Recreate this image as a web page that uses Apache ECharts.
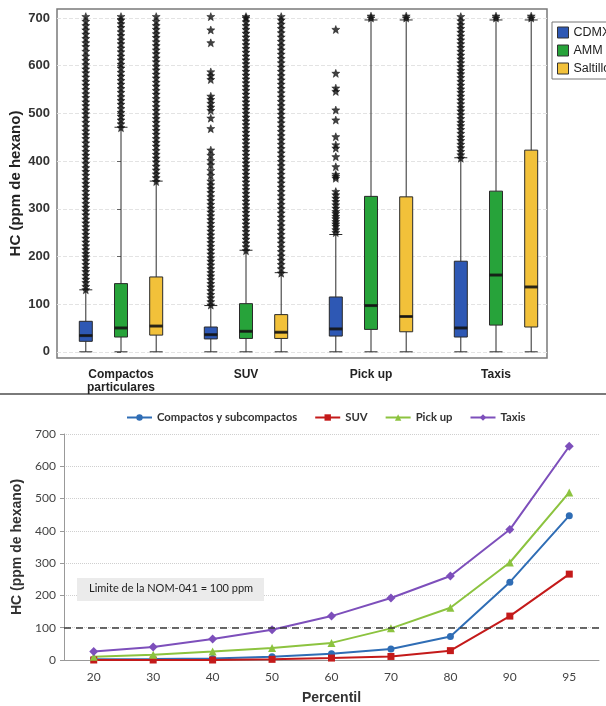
<!DOCTYPE html>
<html>
<head>
<meta charset="utf-8">
<script src="https://cdn.jsdelivr.net/npm/echarts@6/dist/echarts.min.js"></script>
<style>
html, body { margin: 0; padding: 0; background: #fff; }
#chart { width: 606px; height: 706px; }
</style>
</head>
<body>
<div id="chart"></div>
<script>
// ---- top panel: HC by vehicle type and city (box plots) ----
const vehicleTypes = ['Compactos\nparticulares', 'SUV', 'Pick up', 'Taxis'];
const cities = ['CDMX', 'AMM', 'Saltillo'];

// [min, Q1, median, Q3, max] for each vehicle type
const cdmxBoxes = [[0, 22, 34, 64, 130], [0, 27, 36, 52, 97], [0, 33, 48, 115, 246], [0, 31, 50, 190, 407]];
const ammBoxes = [[0, 31, 50, 143, 471], [0, 28, 43, 101, 213], [0, 47, 97, 326, 696], [0, 56, 161, 337, 696]];
const saltilloBoxes = [[0, 35, 54, 157, 358], [0, 28, 41, 78, 166], [0, 42, 74, 325, 696], [0, 52, 136, 423, 696]];

// outliers (ppm) for each vehicle type
const cdmxOutliers = [
  [130, 137, 145, 152, 160, 168, 175, 183, 191, 199, 206, 214, 222, 230, 238, 246, 254, 262, 270, 278, 287, 295, 303, 311, 320, 328, 336, 345, 353, 361, 370, 378, 386, 395, 404, 412, 420, 429, 438, 447, 455, 463, 472, 481, 490, 499, 507, 516, 524, 533, 541, 550, 559, 567, 576, 585, 593, 602, 611, 620, 630, 640, 648, 657, 666, 675, 684, 693, 703],
  [98, 105, 113, 120, 128, 136, 143, 151, 159, 166, 174, 182, 190, 197, 205, 213, 221, 229, 237, 245, 253, 261, 269, 277, 285, 293, 301, 309, 317, 325, 334, 342, 350, 358, 370, 380, 392, 401, 412, 423, 468, 490, 506, 513, 521, 529, 536, 571, 579, 587, 648, 675, 703],
  [250, 256, 263, 268, 273, 279, 284, 290, 294, 301, 308, 315, 322, 329, 336, 364, 368, 372, 388, 409, 427, 434, 451, 486, 507, 546, 553, 584, 676],
  [406, 413, 420, 428, 435, 443, 450, 458, 466, 474, 481, 489, 497, 505, 512, 520, 528, 536, 544, 551, 559, 567, 575, 583, 590, 598, 606, 614, 622, 630, 638, 646, 654, 662, 670, 678, 686, 694, 703]
];
const ammOutliers = [
  [470, 478, 486, 494, 502, 510, 519, 527, 535, 544, 552, 561, 569, 578, 586, 595, 603, 612, 620, 629, 637, 646, 654, 663, 671, 680, 688, 696, 703],
  [212, 220, 228, 236, 244, 252, 260, 268, 276, 284, 292, 300, 308, 316, 324, 332, 340, 348, 356, 364, 372, 380, 388, 396, 404, 412, 420, 428, 436, 444, 452, 460, 468, 476, 484, 492, 500, 508, 516, 524, 532, 540, 548, 556, 564, 572, 580, 588, 596, 604, 612, 620, 628, 636, 644, 652, 660, 668, 676, 684, 692, 700, 703],
  [700, 704],
  [700, 704]
];
const saltilloOutliers = [
  [357, 365, 373, 381, 389, 398, 406, 414, 422, 431, 439, 447, 456, 464, 472, 481, 489, 497, 506, 514, 523, 531, 540, 548, 557, 565, 574, 582, 591, 599, 608, 616, 625, 633, 642, 650, 659, 667, 676, 684, 693, 703],
  [165, 174, 183, 192, 201, 210, 219, 228, 237, 246, 255, 264, 273, 282, 291, 300, 309, 318, 327, 336, 345, 354, 363, 372, 381, 390, 399, 408, 417, 426, 435, 444, 453, 462, 471, 480, 489, 498, 507, 516, 525, 534, 543, 552, 561, 570, 579, 588, 597, 606, 615, 624, 633, 642, 651, 660, 669, 678, 687, 696, 703],
  [700, 704],
  [700, 704]
];
const topTicks = [0, 100, 200, 300, 400, 500, 600, 700];

// ---- bottom panel: HC by percentile ----
const percentiles = ['20', '30', '40', '50', '60', '70', '80', '90', '95'];
const compactos = [2, 3, 5, 10, 19, 34, 73, 241, 447];
const suv = [0, 0, 0, 2, 6, 11, 29, 136, 266];
const pickUp = [10, 16, 26, 37, 53, 98, 162, 302, 519];
const taxis = [26, 40, 65, 94, 136, 192, 260, 404, 662];
const nomLimit = 100;

const boxSets = [cdmxBoxes, ammBoxes, saltilloBoxes];
const outlierSets = [cdmxOutliers, ammOutliers, saltilloOutliers];
const cityColors = ['#2e58b4', '#27a33a', '#f2c13a'];

const starPath = 'path://M5,0L6.3,3.3L10,3.5L7.1,5.9L8.1,9.6L5,7.5L1.9,9.6L2.9,5.9L0,3.5L3.7,3.3Z';

const series = [];
cities.forEach(function (city, c) {
  series.push({
    name: city,
    type: 'boxplot',
    xAxisIndex: 0,
    yAxisIndex: 0,
    boxWidth: [13, 13],
    itemStyle: { color: cityColors[c], borderColor: '#2a2a2a', borderWidth: 1 },
    data: boxSets[c].map(function (b, g) { return [g].concat(b); })
  });
});

const lineDefs = [
  ['Compactos y subcompactos', compactos, '#2f6db5', 'circle', 7],
  ['SUV', suv, '#c41a1a', 'rect', 7],
  ['Pick up', pickUp, '#8cc33f', 'triangle', 8],
  ['Taxis', taxis, '#7d4fbb', 'diamond', 9]
];
lineDefs.forEach(function (d, i) {
  const s = {
    name: d[0],
    type: 'line',
    xAxisIndex: 1,
    yAxisIndex: 1,
    data: d[1],
    symbol: d[3],
    symbolSize: d[4],
    lineStyle: { width: 2, color: d[2] },
    itemStyle: { color: d[2] }
  };
  if (i === 0) {
    s.markLine = {
      silent: true,
      symbol: 'none',
      label: { show: false },
      lineStyle: { color: '#3a3a3a', type: [7, 5], width: 1.6 },
      data: [{ yAxis: nomLimit }]
    };
  }
  series.push(s);
});

const chart = echarts.init(document.getElementById('chart'));
chart.setOption({
  animation: false,
  textStyle: { fontFamily: 'Liberation Sans, Arial, sans-serif' },
  legend: [
    {
      data: cities.map(function (city, c) {
        return { name: city, itemStyle: { color: cityColors[c], borderColor: '#333', borderWidth: 1 } };
      }),
      orient: 'vertical',
      left: 552,
      top: 22,
      icon: 'rect',
      itemWidth: 11,
      itemHeight: 11,
      itemGap: 5,
      padding: [4, 30, 4, 5],
      borderColor: '#777',
      borderWidth: 1,
      textStyle: { fontSize: 12.5, color: '#222' }
    },
    {
      data: lineDefs.map(function (d) { return d[0]; }),
      left: 121,
      top: 407,
      itemWidth: 25,
      itemHeight: 8,
      itemGap: 17,
      textStyle: { fontSize: 11.3, fontWeight: 'bold', color: '#333', fontFamily: 'Lato' }
    }
  ],
  grid: [
    { left: 57, top: 9, width: 490, height: 349, outerBoundsMode: 'none', show: true, borderColor: '#7a7a7a', borderWidth: 1.5 },
    { left: 64, top: 434, width: 535, height: 226, outerBoundsMode: 'none' }
  ],
  xAxis: [
    {
      type: 'value',
      gridIndex: 0,
      min: -0.512,
      max: 3.408,
      axisLine: { show: false },
      axisTick: { show: false },
      splitLine: { show: false },
      axisLabel: {
        customValues: [0, 1, 2, 3],
        formatter: function (v) { return vehicleTypes[Math.round(v)]; },
        fontWeight: 'bold',
        fontSize: 12,
        color: '#222',
        margin: 10,
        lineHeight: 13
      }
    },
    {
      type: 'category',
      gridIndex: 1,
      data: percentiles,
      name: 'Percentil',
      nameLocation: 'middle',
      nameGap: 31,
      nameTextStyle: { fontSize: 14, fontWeight: 'bold', color: '#333' },
      axisLine: { lineStyle: { color: '#999' } },
      axisTick: { length: 5, lineStyle: { color: '#999' } },
      axisLabel: { fontSize: 12, color: '#444', margin: 11, fontFamily: 'Lato' }
    }
  ],
  yAxis: [
    {
      type: 'value',
      gridIndex: 0,
      min: -13,
      max: 719,
      name: 'HC (ppm de hexano)',
      nameLocation: 'middle',
      nameGap: 34,
      nameMoveOverlap: false,
      nameTextStyle: { fontSize: 15, fontWeight: 'bold', color: '#222' },
      axisLine: { show: false },
      axisTick: { show: true, customValues: topTicks, length: 4, lineStyle: { color: '#666' } },
      axisLabel: { customValues: topTicks, fontWeight: 'bold', fontSize: 13, color: '#333', margin: 7 },
      splitLine: { show: true, lineStyle: { color: '#e3e3e3', type: 'dashed' } }
    },
    {
      type: 'value',
      gridIndex: 1,
      min: 0,
      max: 700,
      interval: 100,
      name: 'HC (ppm de hexano)',
      nameLocation: 'middle',
      nameGap: 40,
      nameMoveOverlap: false,
      nameTextStyle: { fontSize: 14, fontWeight: 'bold', color: '#333' },
      axisLine: { show: true, lineStyle: { color: '#999' } },
      axisTick: { show: true, length: 4, lineStyle: { color: '#999' } },
      axisLabel: { fontSize: 12, color: '#444', margin: 8, fontFamily: 'Lato' },
      splitLine: { show: true, lineStyle: { color: '#cfcfcf', type: 'dotted' } }
    }
  ],
  graphic: [
    { type: 'line', shape: { x1: 0, y1: 394, x2: 606, y2: 394 }, style: { stroke: '#7a7a7a', lineWidth: 2 } },
    { type: 'rect', shape: { x: 77, y: 578, width: 187, height: 23 }, style: { fill: '#ebebeb' }, z: 10 },
    { type: 'text', x: 89, y: 583, style: { text: 'Limite de la NOM-041 = 100 ppm', fontSize: 11, fontFamily: 'Lato', fill: '#222' }, z: 11 }
  ],
  series: series
});

// outliers and medians go on the x where ECharts placed each box
cities.forEach(function (city, c) {
  const boxData = chart.getModel().getSeriesByIndex(c).getData();
  const xs = boxSets[c].map(function (b, g) {
    const ends = boxData.getItemLayout(g).ends;
    const px = ends.map(function (p) { return p[0]; });
    const mid = (Math.min.apply(null, px) + Math.max.apply(null, px)) / 2;
    return chart.convertFromPixel({ xAxisIndex: 0 }, mid);
  });
  const pts = [];
  outlierSets[c].forEach(function (list, g) {
    list.forEach(function (v) { pts.push([xs[g], v]); });
  });
  series.push({
    name: city + ' atípicos',
    type: 'scatter',
    xAxisIndex: 0,
    yAxisIndex: 0,
    symbol: starPath,
    symbolSize: 8,
    itemStyle: { color: '#111', borderColor: '#111', borderWidth: 0.6 },
    data: pts
  });
  series.push({
    name: city + ' mediana',
    type: 'scatter',
    xAxisIndex: 0,
    yAxisIndex: 0,
    symbol: 'rect',
    symbolSize: [13, 3],
    z: 5,
    itemStyle: { color: '#111' },
    data: boxSets[c].map(function (b, g) { return [xs[g], b[2]]; })
  });
});
chart.setOption({ series: series });
</script>
</body>
</html>
